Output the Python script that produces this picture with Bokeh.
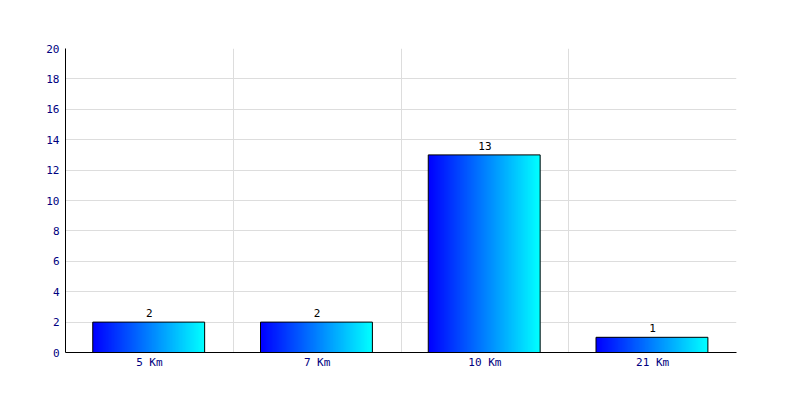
from bokeh.plotting import figure
from bokeh.models import FixedTicker, ColumnDataSource, Range1d
from bokeh.embed import file_html
from bokeh.resources import INLINE
from bokeh.core.properties import value

categories = ["5 Km", "7 Km", "10 Km", "21 Km"]
counts = [2, 2, 13, 1]
y_ticks = list(range(0, 21, 2))

n = len(categories)
bar_w = 0.667
steps = 112

p = figure(width=784, height=384, output_backend="svg", toolbar_location=None,
           x_range=Range1d(0, n), y_range=Range1d(0, 20),
           min_border_left=65, min_border_right=48, min_border_top=48, min_border_bottom=32)
p.outline_line_color = None
p.background_fill_color = "white"

# gradient slices
L, R, T, C = [], [], [], []
for i, v in enumerate(counts):
    left = i + 0.5 - bar_w / 2 - 0.004
    right = left + bar_w
    for s in range(steps):
        f0 = s / steps
        f1 = (s + 2) / steps
        L.append(left + bar_w * f0)
        R.append(min(left + bar_w * f1, right))
        T.append(v)
        g = int(round(255 * s / (steps - 1)))
        C.append("#%02x%02x%02x" % (0, g, 255))
p.quad(left=L, right=R, top=T, bottom=0, fill_color=C, line_color=None)

centers = [i + 0.5 for i in range(n)]
src = ColumnDataSource(dict(x=centers, xb=[c - 0.004 for c in centers], top=counts,
                            lab=[str(c) for c in counts]))
p.vbar(x="xb", top="top", width=bar_w, bottom=0, source=src,
       fill_color=None, line_color="black", line_width=1)
p.text(x="x", y="top", text="lab", source=src, text_align="center", text_baseline="bottom",
       y_offset=-5, text_font=value("DejaVu Sans Mono"), text_font_size="11px", text_color="black")

p.xaxis.ticker = FixedTicker(ticks=centers)
p.xaxis.major_label_overrides = {c: lab for c, lab in zip(centers, categories)}
p.yaxis.ticker = FixedTicker(ticks=y_ticks)
p.xgrid.ticker = FixedTicker(ticks=list(range(1, n + 1)))
p.ygrid.ticker = FixedTicker(ticks=y_ticks)
p.grid.grid_line_color = "#dddddd"
p.grid.grid_line_width = 1

for ax in (p.xaxis, p.yaxis):
    ax.major_tick_line_color = None
    ax.minor_tick_line_color = None
    ax.major_tick_out = 0
    ax.major_tick_in = 0
    ax.minor_tick_out = 0
    ax.axis_line_color = "black"
    ax.major_label_text_color = "#000080"
    ax.major_label_text_font = "DejaVu Sans Mono"
    ax.major_label_text_font_size = "11px"
p.xaxis.major_label_standoff = 3
p.yaxis.major_label_standoff = 6

open("out.html", "w").write(file_html(p, INLINE))
